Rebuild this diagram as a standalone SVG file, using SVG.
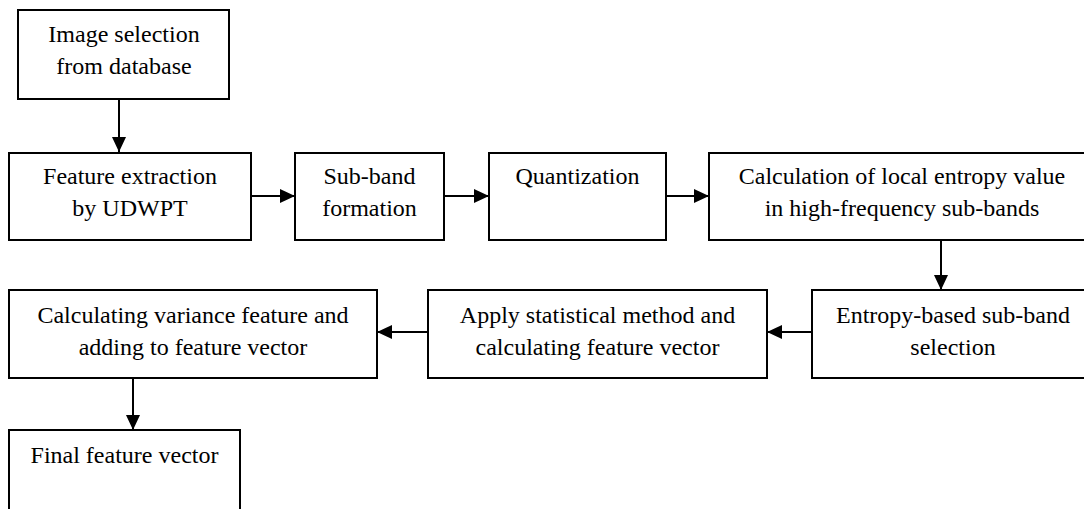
<svg xmlns="http://www.w3.org/2000/svg" width="1084" height="509" viewBox="0 0 1084 509">
  <style>
    .box { fill: #ffffff; stroke: #000000; stroke-width: 2; }
    .lbl { font-family: "Liberation Serif", "Times New Roman", serif; font-size: 24px; fill: #000000; text-anchor: middle; }
    .conn { stroke: #000000; stroke-width: 2; fill: none; marker-end: url(#arrow); }
  </style>
  <defs>
    <marker id="arrow" markerUnits="userSpaceOnUse" markerWidth="16" markerHeight="14" refX="15" refY="7" orient="auto">
      <path d="M0,0 L15,7 L0,14 Z" fill="#000000"/>
    </marker>
  </defs>
  <rect width="1084" height="509" fill="#ffffff"/>

  <g id="connectors">
    <line class="conn" x1="119" y1="99" x2="119" y2="152"/>
    <line class="conn" x1="251" y1="196" x2="295" y2="196"/>
    <line class="conn" x1="444" y1="196" x2="489" y2="196"/>
    <line class="conn" x1="666" y1="196" x2="709" y2="196"/>
    <line class="conn" x1="941" y1="240" x2="941" y2="290"/>
    <line class="conn" x1="812" y1="332" x2="767" y2="332"/>
    <line class="conn" x1="428" y1="332" x2="377" y2="332"/>
    <line class="conn" x1="133" y1="378" x2="133" y2="430"/>
  </g>

  <g id="node-image-selection">
    <rect class="box" x="18" y="10" width="211" height="89"/>
    <text class="lbl" x="124" y="42">Image selection</text>
    <text class="lbl" x="124" y="74">from database</text>
  </g>

  <g id="node-feature-extraction">
    <rect class="box" x="9" y="153" width="242" height="87"/>
    <text class="lbl" x="130" y="184">Feature extraction</text>
    <text class="lbl" x="130" y="216">by UDWPT</text>
  </g>

  <g id="node-subband-formation">
    <rect class="box" x="295" y="153" width="149" height="87"/>
    <text class="lbl" x="369.5" y="184">Sub-band</text>
    <text class="lbl" x="369.5" y="216">formation</text>
  </g>

  <g id="node-quantization">
    <rect class="box" x="489" y="153" width="177" height="87"/>
    <text class="lbl" x="577.5" y="184">Quantization</text>
  </g>

  <g id="node-local-entropy">
    <rect class="box" x="709" y="153" width="386" height="87"/>
    <text class="lbl" x="902" y="184">Calculation of local entropy value</text>
    <text class="lbl" x="902" y="216">in high-frequency sub-bands</text>
  </g>

  <g id="node-entropy-selection">
    <rect class="box" x="812" y="290" width="282" height="88"/>
    <text class="lbl" x="953" y="323">Entropy-based sub-band</text>
    <text class="lbl" x="953" y="355">selection</text>
  </g>

  <g id="node-statistical">
    <rect class="box" x="428" y="290" width="339" height="88"/>
    <text class="lbl" x="597.5" y="323">Apply statistical method and</text>
    <text class="lbl" x="597.5" y="355">calculating feature vector</text>
  </g>

  <g id="node-variance">
    <rect class="box" x="9" y="290" width="368" height="88"/>
    <text class="lbl" x="193" y="323">Calculating variance feature and</text>
    <text class="lbl" x="193" y="355">adding to feature vector</text>
  </g>

  <g id="node-final">
    <rect class="box" x="9" y="430" width="231" height="100"/>
    <text class="lbl" x="124.5" y="463">Final feature vector</text>
  </g>
</svg>
